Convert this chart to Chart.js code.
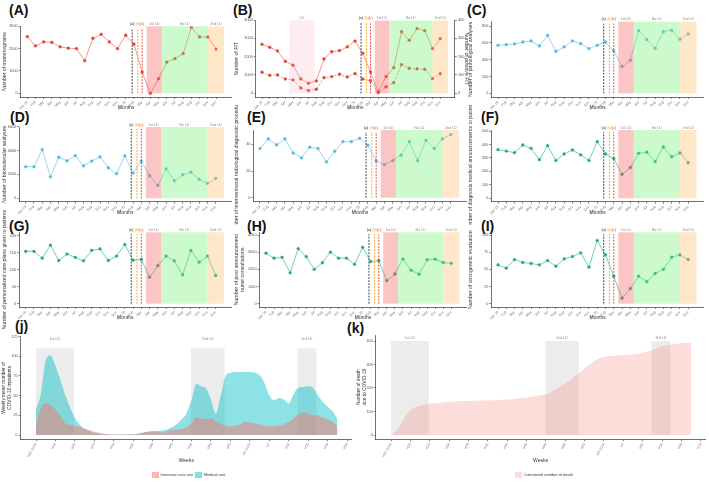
<!DOCTYPE html>
<html>
<head>
<meta charset="utf-8">
<script src="https://cdn.jsdelivr.net/npm/chart.js@4"></script>
<style>
body{margin:0;background:#fff;width:709px;height:482px;overflow:hidden;position:relative;font-family:"Liberation Sans",Arial,sans-serif}
canvas{position:absolute}
.tag{position:absolute;font-weight:bold;font-size:14px;color:#111;line-height:14px}
.leg{position:absolute;font-size:4px;color:#333;line-height:7px;white-space:nowrap}
.leg i{display:inline-block;width:6.5px;height:6.5px;vertical-align:middle;margin-right:2px}
</style>
</head>
<body>
<div class="tag" style="left:9px;top:3px">(A)</div>
<div class="tag" style="left:233px;top:3px">(B)</div>
<div class="tag" style="left:467px;top:3px">(C)</div>
<div class="tag" style="left:10px;top:110px">(D)</div>
<div class="tag" style="left:247px;top:110px">(E)</div>
<div class="tag" style="left:481px;top:110px">(F)</div>
<div class="tag" style="left:9px;top:219px">(G)</div>
<div class="tag" style="left:247px;top:219px">(H)</div>
<div class="tag" style="left:481px;top:219px">(I)</div>
<div class="tag" style="left:15px;top:319px">(j)</div>
<div class="tag" style="left:347px;top:321px">(k)</div>
<div class="leg" style="left:152px;top:471px"><i style="background:rgba(248,118,109,0.55)"></i>Intensive care unit&nbsp;&nbsp;<i style="background:rgba(0,191,196,0.5)"></i>Medical unit</div>
<div class="leg" style="left:515px;top:471px"><i style="background:rgba(248,118,109,0.25)"></i>Cumulated number of death</div>
<script>
/* months (2019-2020) */
const MONTHS = ["Jan 19","Feb","Mar","Apr","May","Jun","Jul","Aug","Sep","Oct","Nov","Dec",
                "Jan 20","Feb","Mar","Apr","May","Jun","Jul","Aug","Sep","Oct","Nov","Dec"];

const MAMMO     = [2540,2120,2300,2280,2080,2020,2000,1460,2460,2640,2300,2000,2600,2200,950,0,650,1400,1550,1780,2950,2520,2520,1980];
const FIT       = [2670,2510,2310,1745,1530,780,545,673,1873,2270,2330,2530,2850,2180,1160,90,910,1400,3360,2890,3530,3420,2440,2980];
const FIT_POS   = [115,98,100,78,73,29,15,22,85,91,104,89,107,78,69,4,35,58,156,136,133,131,80,107];
const PATHO     = [570,578,586,610,622,562,689,499,551,622,590,531,570,610,503,317,392,745,638,535,733,749,642,705];
const BIOMOL    = [2640,2640,4080,1800,3440,3140,3580,2720,3110,3470,2560,2060,3560,2110,3110,1890,1080,2470,1470,1970,2190,1580,1250,1670];
const RADIO     = [36.8,44,39.5,44,33.5,29.8,37.8,36.8,26.8,34.8,42,42,44.5,39.3,27.5,24.8,27.8,31.8,42,27.8,43,36.8,44,47.3];
const ANNOUNCE  = [361,351,339,396,371,287,391,280,329,359,322,280,421,329,295,178,228,334,342,272,381,309,337,265];
const CAREPLANS = [154,154,134,172,127,146,136,126,157,161,127,140,174,128,130,78,112,140,126,85,156,122,140,83];
const NURSE     = [2940,2650,2700,1800,3200,2740,2000,2380,3000,2650,2650,2290,3280,2450,2500,1340,1730,2600,1950,1720,2560,2590,2400,2350];
const ONCOGEN   = [56.5,51.7,64.3,60,58.5,56.5,62.8,54.6,65.2,68.6,74,53.2,91.9,71.1,40,8,22,40,32,44,50,67.7,71,64.3];

/* weeks (w12 2020 -> w21 2021) */
const WEEK_LABELS = ["w12 2020","w16","w20","w24","w28","w32","w36","w40","w44","w48","w52","w3 2021","w7","w11","w15","w19","w23"];
const MEDICAL = [33,52,95,101,88,70,51,35,22,13,8,5,3,2,1,1,0.5,0.5,0.5,1,1,2,3,4,5,5,6,7,10,14,20,28,45,65,62,59,45,27,50,75,79,80,80,80,80,79,76,66,50,44,47,45,40,52,60,61,62,60,50,42,36,30,21];
const ICU     = [13,34,40,38,32,24,15,13,12,10,8,6,4,3,1.5,1,0.5,0.5,0.5,0.5,0.5,1.5,3,4,4,4,3,5,7,7,7.5,10,15,23,21,20,21,17,14,12,11,12,13,17,16,15,14,12,11,11,12,14,17,21,26,29,27,25,25,22,20,17,11];
const DEATHS  = [0,15,45,80,105,118,125,129,132,134,136,139,141,143,144,145,145,146,146,147,147,148,149,150,151,152,154,157,160,163,166,169,173,182,195,206,220,233,250,265,282,300,315,326,333,335,336,338,340,342,344,346,350,356,362,370,377,382,386,388,390,391,392];

/* periods, in month units */
const PHASES = [
    {from:14.55, to:16.4, color:"rgba(245,90,90,0.35)",  label:"1st LD"},
    {from:16.4,  to:22.0, color:"rgba(110,240,110,0.35)", label:"No LD"},
    {from:22.0,  to:24.0, color:"rgba(255,185,90,0.32)",  label:"2nd LD"}
];
const EVENTS = [
    {at:12.78, color:"#222",    label:"(a)"},
    {at:13.47, color:"#f5a300", label:"(b)"},
    {at:14.0,  color:"#e8302c", label:"(c)"}
];
/* lockdowns, in week units */
const LOCKDOWNS = [
    {from:0,    to:7.8,  label:"1st LD"},
    {from:31.9, to:38.8, label:"2nd LD"},
    {from:53.8, to:57.7, label:"3rd LD"}
];

Chart.defaults.font.family = '"Liberation Sans", Arial, sans-serif';
Chart.defaults.color = "#555";

const RED  = {line:"rgba(242,110,95,0.8)", point:"#e4412f"};
const BLUE = {line:"#8fd3ea", point:"#58b8de"};
const TEAL = {line:"#5ccdb0", point:"#26a782"};

function addCanvas(box)
{
    let c = document.createElement("canvas");
    c.width = box.w; c.height = box.h;
    c.style.left = box.x + "px"; c.style.top = box.y + "px";
    document.body.appendChild(c);
    return c;
}

const phasePlugin = {
    id: "phases",
    afterDatasetsDraw(chart, args, opts) {
        const {ctx, chartArea:a, scales:{x, y}} = chart;
        const y0 = y.getPixelForValue(0);
        ctx.save();
        ctx.font = '3.6px "Liberation Sans"';
        ctx.textAlign = "center";
        ctx.textBaseline = "bottom";
        (opts.extra || []).concat(PHASES).forEach(ph => {
            let x1 = x.getPixelForValue(ph.from), x2 = x.getPixelForValue(ph.to);
            ctx.fillStyle = ph.color;
            ctx.fillRect(x1, a.top, x2 - x1, y0 - a.top);
            ctx.fillStyle = "#888";
            ctx.fillText(ph.label, (x1 + x2) / 2, a.top - 0.5);
        });
        EVENTS.forEach(ev => {
            let px = x.getPixelForValue(ev.at);
            ctx.strokeStyle = ev.color;
            ctx.lineWidth = 0.9;
            ctx.setLineDash([1.8, 1.3]);
            ctx.beginPath(); ctx.moveTo(px, y0); ctx.lineTo(px, a.top + 2); ctx.stroke();
            ctx.fillStyle = ev.color;
            ctx.fillText(ev.label, px, a.top - 0.5);
        });
        ctx.restore();
    }
};

const lockPlugin = {
    id: "lockdowns",
    beforeDatasetsDraw(chart, args, opts) {
        const {ctx, chartArea:a, scales:{x, y}} = chart;
        const y0 = y.getPixelForValue(0), yt = y.getPixelForValue(opts.top);
        ctx.save();
        ctx.font = '3.6px "Liberation Sans"';
        ctx.textAlign = "center";
        ctx.textBaseline = "middle";
        LOCKDOWNS.forEach(ld => {
            let x1 = x.getPixelForValue(ld.from), x2 = x.getPixelForValue(ld.to);
            ctx.fillStyle = "#ececec";
            ctx.fillRect(x1, yt, x2 - x1, y0 - yt);
            ctx.fillStyle = "#888";
            ctx.fillText(ld.label, (x1 + x2) / 2, a.top + 2.5);
        });
        ctx.restore();
    }
};

function axisStyle()
{
    return {
        grid: {drawOnChartArea:false, drawTicks:true, tickLength:2, tickWidth:0.6, color:"#333"},
        border: {display:true, color:"#333", width:0.7}
    };
}

/* one monthly panel */
function monthPanel(p)
{
    const k = (p.zero - p.refPx) / p.refVal;
    const left = p.p0 - 0.8 * p.step, right = p.p0 + 24.9 * p.step;
    const xh = 14, rw = p.right ? p.box.x + p.box.w - right : 0;
    const ymin = -(p.bottom - p.zero) / k, ymax = (p.zero - p.top) / k;

    let datasets = p.series.map(s => ({
        data: s.data.map((v, i) => ({x:i, y:v})),
        yAxisID: s.axis || "y",
        borderColor: p.color.line,
        backgroundColor: p.color.point,
        pointBackgroundColor: p.color.point,
        pointBorderColor: p.color.point,
        pointRadius: 1.4,
        pointBorderWidth: 0.4,
        borderWidth: 0.9,
        borderDash: s.dashed ? [2.5, 1.5] : [],
        tension: 0
    }));

    let scales = {
        x: Object.assign(axisStyle(), {
            type: "linear", min: -0.8, max: 24.9,
            afterBuildTicks: s => { s.ticks = MONTHS.map((m, i) => ({value:i})); },
            afterFit: s => { s.height = xh; },
            ticks: {autoSkip:false, minRotation:45, maxRotation:45, padding:1,
                    font:{size:3.6}, color:"#777", callback: v => MONTHS[v]},
            title: {display:true, text:"Months", font:{size:5}, color:"#333", padding:0}
        }),
        y: Object.assign(axisStyle(), {
            min: ymin, max: ymax,
            afterBuildTicks: s => { s.ticks = p.ticks.map(v => ({value:v})); },
            afterFit: s => { s.width = left - p.box.x; },
            ticks: {padding:1, font:{size:3.8}, callback: v => String(v)},
            title: {display:true, text:p.title, font:{size:5.2}, color:"#333", padding:{top:1, bottom:0}}
        })
    };
    if (p.right) {
        scales.y2 = Object.assign(axisStyle(), {
            position: "right",
            min: ymin * p.right.ratio, max: ymax * p.right.ratio,
            afterBuildTicks: s => { s.ticks = p.right.ticks.map(v => ({value:v})); },
            afterFit: s => { s.width = rw; },
            ticks: {padding:1, font:{size:3.8}, callback: v => String(v)},
            title: {display:true, text:p.right.title, font:{size:5.2}, color:"#333", padding:{top:1, bottom:0}}
        });
    }

    new Chart(addCanvas(p.box), {
        type: "line",
        data: {datasets: datasets},
        options: {
            responsive: false, animation: false, devicePixelRatio: 1,
            layout: {padding: {
                left: 0,
                top: p.top - p.box.y,
                right: p.box.x + p.box.w - right - rw,
                bottom: p.box.y + p.box.h - p.bottom - xh
            }},
            plugins: {legend:{display:false}, tooltip:{enabled:false}, phases:{extra:p.extra}},
            scales: scales
        },
        plugins: [phasePlugin]
    });
}

const ROW1 = {y:0,   h:118, zero:93.3,  bottom:97};
const ROW2 = {y:105, h:120, zero:198.3, bottom:201.7};
const ROW3 = {y:210, h:122, zero:303.7, bottom:307};

monthPanel({box:{x:0, y:ROW1.y, w:236, h:ROW1.h}, p0:27.3, step:8.27, zero:ROW1.zero, bottom:ROW1.bottom,
    refVal:3000, refPx:26.3, top:26.3, ticks:[0,1000,2000,3000], title:"Number of mammograms",
    color:RED, series:[{data:MAMMO}]});

monthPanel({box:{x:232, y:ROW1.y, w:239, h:ROW1.h}, p0:262, step:7.75, zero:ROW1.zero, bottom:ROW1.bottom,
    refVal:4000, refPx:20, top:20.5, ticks:[0,1000,2000,3000,4000], title:"Number of FIT",
    right:{ratio:0.1, ticks:[0,100,200,300,400], title:"Number of positive FIT"},
    extra:[{from:3.5, to:6.8, color:"rgba(255,170,185,0.22)", label:"LD"}],
    color:RED, series:[{data:FIT}, {data:FIT_POS, axis:"y2", dashed:true}]});

monthPanel({box:{x:466, y:ROW1.y, w:243, h:ROW1.h}, p0:498, step:8.27, zero:ROW1.zero, bottom:ROW1.bottom,
    refVal:800, refPx:26, top:21.7, ticks:[0,200,400,600,800], title:"Number of pathological analyses",
    color:BLUE, series:[{data:PATHO}]});

monthPanel({box:{x:0, y:ROW2.y, w:236, h:ROW2.h}, p0:25.7, step:8.26, zero:ROW2.zero, bottom:ROW2.bottom,
    refVal:6000, refPx:126.7, top:127, ticks:[0,2000,4000,6000], title:"Number of biomolecular analyses",
    color:BLUE, series:[{data:BIOMOL}]});

monthPanel({box:{x:232, y:ROW2.y, w:239, h:ROW2.h}, p0:260, step:8.3, zero:197.7, bottom:ROW2.bottom,
    refVal:40, refPx:144.3, top:130, ticks:[0,20,40], title:"Number of interventional radiological diagnostic procedures",
    color:BLUE, series:[{data:RADIO}]});

monthPanel({box:{x:466, y:ROW2.y, w:243, h:ROW2.h}, p0:498, step:8.27, zero:ROW2.zero, bottom:ROW2.bottom,
    refVal:500, refPx:131, top:130, ticks:[0,100,200,300,400,500], title:"Number of diagnosis medical announcements to patients",
    color:TEAL, series:[{data:ANNOUNCE}]});

monthPanel({box:{x:0, y:ROW3.y, w:236, h:ROW3.h}, p0:25.7, step:8.26, zero:ROW3.zero, bottom:ROW3.bottom,
    refVal:200, refPx:235.7, top:232.3, ticks:[0,50,100,150,200], title:"Number of personalized care plans given to patients",
    color:TEAL, series:[{data:CAREPLANS}]});

monthPanel({box:{x:232, y:ROW3.y, w:239, h:ROW3.h}, p0:266, step:8.1, zero:ROW3.zero, bottom:ROW3.bottom,
    refVal:4000, refPx:235, top:232.3, ticks:[0,1000,2000,3000,4000], title:["Number of post announcement", "nurse consultations"],
    color:TEAL, series:[{data:NURSE}]});

monthPanel({box:{x:466, y:ROW3.y, w:243, h:ROW3.h}, p0:498, step:8.27, zero:ROW3.zero, bottom:ROW3.bottom,
    refVal:100, refPx:235, top:232.3, ticks:[0,25,50,75,100], title:"Number of oncogenetic evaluation",
    color:TEAL, series:[{data:ONCOGEN}]});

/* weekly panels */
function weekPanel(p)
{
    const k = (p.zero - p.refPx) / p.refVal;
    const left = p.p0 - 3.15 * p.step, right = p.p0 + 65 * p.step;
    const xh = 24.7;
    new Chart(addCanvas(p.box), {
        type: "line",
        data: {datasets: p.series.map(s => ({
            data: s.data.map((v, i) => ({x:i, y:v})),
            fill: "origin", backgroundColor: s.color,
            borderWidth: 0, pointRadius: 0, tension: 0.4, cubicInterpolationMode: "monotone"
        }))},
        options: {
            responsive: false, animation: false, devicePixelRatio: 1,
            layout: {padding: {left:0, top:p.top - p.box.y, right:p.box.x + p.box.w - right,
                               bottom:p.box.y + p.box.h - p.bottom - xh}},
            plugins: {legend:{display:false}, tooltip:{enabled:false}, lockdowns:{top:p.shadeTop}},
            scales: {
                x: Object.assign(axisStyle(), {
                    type: "linear", min: -3.15, max: 65,
                    afterBuildTicks: s => { s.ticks = WEEK_LABELS.map((w, i) => ({value:i * 4})); },
                    afterFit: s => { s.height = xh; },
                    ticks: {autoSkip:false, minRotation:60, maxRotation:60, padding:1,
                            font:{size:3.6}, color:"#777", callback: v => WEEK_LABELS[v / 4]},
                    title: {display:true, text:"Weeks", font:{size:5}, color:"#333", padding:0}
                }),
                y: Object.assign(axisStyle(), {
                    min: -(p.bottom - p.zero) / k, max: (p.zero - p.top) / k,
                    afterBuildTicks: s => { s.ticks = p.ticks.map(v => ({value:v})); },
                    afterFit: s => { s.width = left - p.box.x; },
                    ticks: {padding:1, font:{size:3.8}, callback: v => String(v)},
                    title: {display:true, text:p.title, font:{size:4.8}, color:"#333", padding:{top:1, bottom:0}}
                })
            }
        },
        plugins: [lockPlugin]
    });
}

weekPanel({box:{x:0, y:330, w:355, h:152}, p0:36, step:4.86, zero:435, bottom:439.3,
    refVal:125, refPx:336.5, top:336.5, shadeTop:110, ticks:[0,25,50,75,100,125],
    title:["Weekly mean number of", "COVID-19 inpatients"],
    series:[{data:ICU, color:"rgba(248,118,109,0.5)"}, {data:MEDICAL, color:"rgba(0,191,196,0.45)"}]});

weekPanel({box:{x:355, y:330, w:354, h:152}, p0:391, step:4.84, zero:435, bottom:439.3,
    refVal:400, refPx:341, top:335, shadeTop:400, ticks:[0,100,200,300,400],
    title:["Number of death", "due to COVID-19"],
    series:[{data:DEATHS, color:"rgba(248,118,109,0.25)"}]});
</script>
</body>
</html>
